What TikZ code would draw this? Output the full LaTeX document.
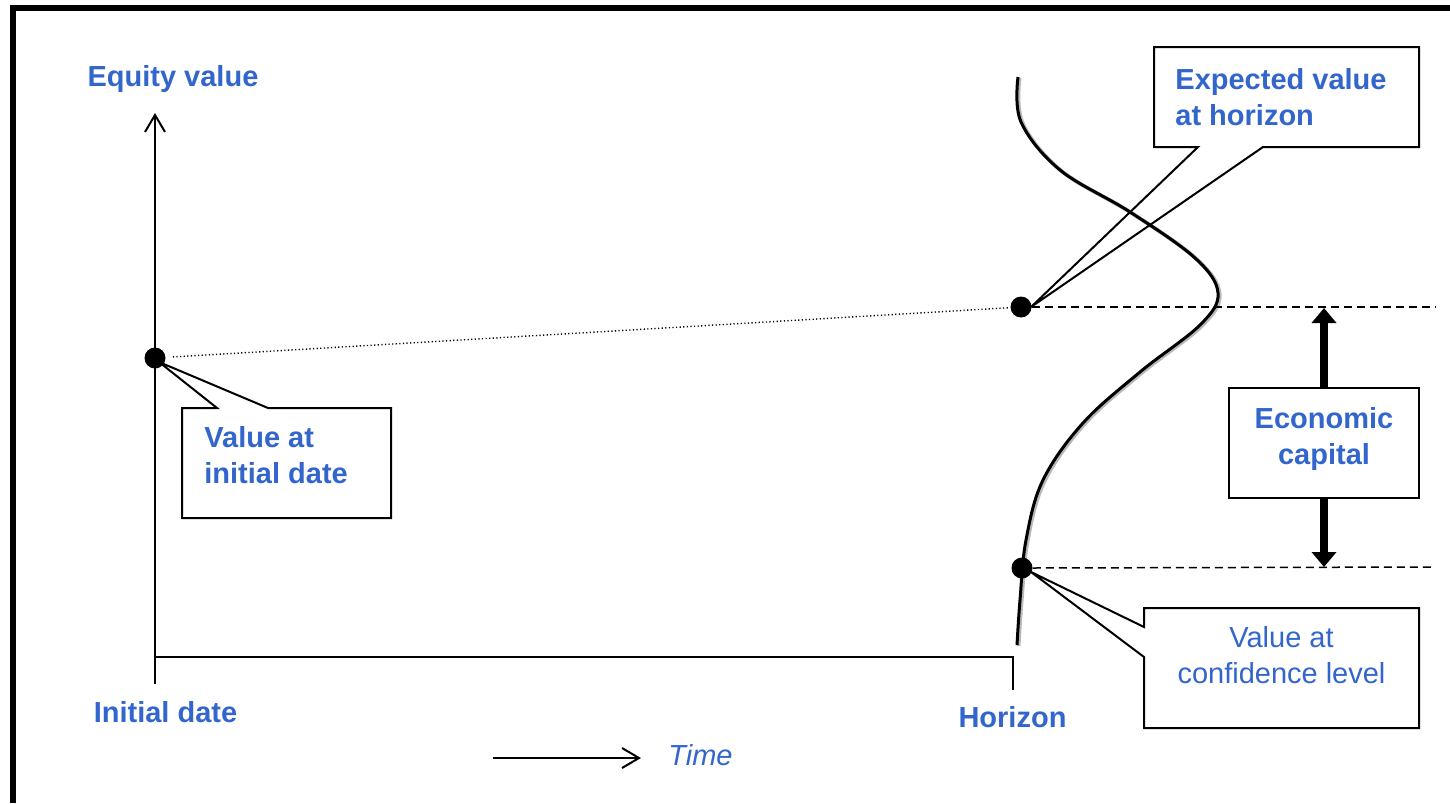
\documentclass[tikz,border=0pt]{standalone}
\usepackage{fontspec}
\setmainfont{Liberation Sans}
\usetikzlibrary{arrows.meta,calc}
\definecolor{lblue}{RGB}{51,102,204}
\newcommand\lblfont{\fontsize{14.5pt}{18pt}\selectfont}
\begin{document}
\begin{tikzpicture}[x=0.5pt,y=-0.5pt,
  lbl/.style={text=lblue, font=\lblfont\bfseries, inner sep=0pt},
  lblr/.style={text=lblue, font=\lblfont, inner sep=0pt},
  lbli/.style={text=lblue, font=\lblfont\itshape, inner sep=0pt},
  boxshape/.style={rectangle, draw=none, inner sep=0pt, outer sep=0pt},
  boxline/.style={draw=black, line width=1pt, line join=miter},
  axisline/.style={draw=black, line width=1pt},
  dot/.style={circle, fill=black, draw=none, inner sep=0pt, minimum size=10.5pt},
  dashline/.style={line width=0.75pt, dash pattern=on 4pt off 2.5pt},
  dotline/.style={line width=0.7pt, dash pattern=on 0.6pt off 1.2pt},
  ecarrow/.style={line width=4pt, -{Triangle[length=7.5pt,width=12pt]}},
  barb/.style={-{Straight Barb[length=8.5pt,width=10pt,line width=1pt]}},
  curvepts/.style={smooth, tension=0.6}
]
\useasboundingbox (0,0) rectangle (1450,803);
\fill[white] (0,0) rectangle (1450,803);

% frame
\draw[line width=3pt] (13,803) -- (13,8) -- (1450,8);

% axes
\coordinate (ytop) at (155,113);
\coordinate (ybot) at (155,684);
\coordinate (xorig) at (155,657);
\coordinate (xend) at (1013,657);
\coordinate (htick) at (1013,690);
\draw[axisline, barb] (ybot) -- (ytop);
\draw[axisline] (xorig) -- (xend) -- (htick);

% time arrow
\coordinate (t0) at (493,758);
\coordinate (t1) at (641,758);
\draw[axisline, barb] (t0) -- (t1);

% distribution curve
\def\curvecoords{(1018,77) (1021,122) (1060,170) (1130,212) (1195,258) (1218,293)
 (1200,325) (1140,372) (1083,423) (1043,480) (1026,540) (1020,600) (1017,645)}
\draw[gray!55, line width=2pt, shift={(1.5,1)}] plot[curvepts] coordinates {\curvecoords};
\draw[black, line width=1.5pt] plot[curvepts] coordinates {\curvecoords};

% dots
\node[dot] (d0) at (155,358) {};
\node[dot] (d1) at (1021,307) {};
\node[dot] (d2) at (1022,568) {};

% dotted and dashed lines
\draw[dotline, shorten <=3.5pt] (d0) -- (d1);
\coordinate (dash1) at (1435,307);
\coordinate (dash2) at (1435,567);
\draw[dashline] (d1.east) -- (dash1);
\draw[dashline] (d2.east) -- (dash2);

% economic capital
\node[boxshape, draw=black, line width=1pt, minimum width=95pt, minimum height=55pt] (ecbox) at (1324,443) {};
\node[lbl, align=center, anchor=north] (ectext) at (1324,407) {Economic\\capital};
\coordinate (ectop) at (1324,308);
\coordinate (ecbot) at (1324,567);
\draw[ecarrow] (ecbox.north) -- (ectop);
\draw[ecarrow] (ecbox.south) -- (ecbot);

% callout: value at initial date
\node[boxshape, minimum width=104.5pt, minimum height=55pt] (ivbox) at (286.5,463) {};
\coordinate (ivtip) at (159,362);
\draw[boxline] (ivbox.north west) -- +(35,0) -- (ivtip) -- ($(ivbox.north west)+(86,0)$)
  -- (ivbox.north east) -- (ivbox.south east) -- (ivbox.south west) -- cycle;
\node[lbl, align=left, anchor=north west] (ivtext) at (204,426) {Value at\\initial date};

% callout: expected value at horizon
\node[boxshape, minimum width=132.5pt, minimum height=50pt] (ebox) at (1286.5,97) {};
\coordinate (etip) at (1031,307);
\draw[boxline] (ebox.south west) -- +(44,0) -- (etip) -- ($(ebox.south west)+(109,0)$)
  -- (ebox.south east) -- (ebox.north east) -- (ebox.north west) -- cycle;
\node[lbl, align=left, anchor=north west] (etext) at (1175,68) {Expected value\\at horizon};

% callout: value at confidence level
\node[boxshape, minimum width=137.5pt, minimum height=60pt] (cbox) at (1281.5,668) {};
\coordinate (ctip) at (1031,572);
\draw[boxline] (cbox.north west) -- +(0,19) -- (ctip) -- ($(cbox.north west)+(0,49)$)
  -- (cbox.south west) -- (cbox.south east) -- (cbox.north east) -- cycle;
\node[lblr, align=center, anchor=north] (ctext) at (1281.5,626) {Value at\\confidence level};

% axis labels
\node[lbl, anchor=base] (eqv) at (173,86) {Equity value};
\node[lbl, anchor=base] (idate) at (165.5,722) {Initial date};
\node[lbl, anchor=base] (hor) at (1012.5,727) {Horizon};
\node[lbli, anchor=base west] (time) at (668,765) {Time};
\end{tikzpicture}
\end{document}
